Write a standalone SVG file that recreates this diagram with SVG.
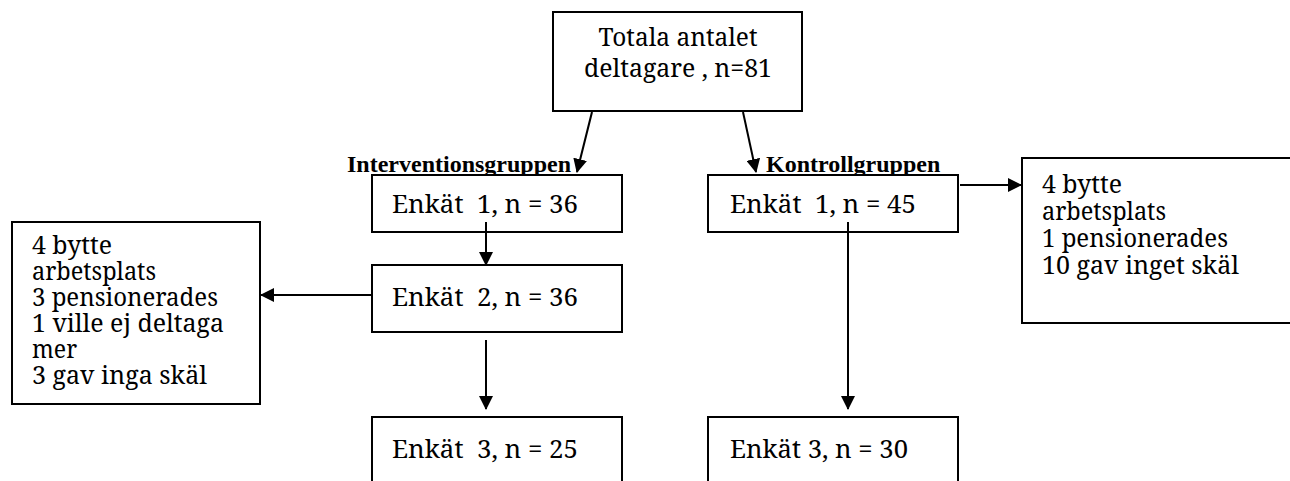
<svg xmlns="http://www.w3.org/2000/svg" width="1290" height="481" viewBox="0 0 1290 481">
<style>
.box{fill:#fff;stroke:#000;stroke-width:2}
.t{font-family:"Noto Serif","DejaVu Serif","Liberation Serif",serif;font-size:26px;fill:#000}
.b{font-family:"Liberation Serif","Times New Roman",serif;font-size:24px;font-weight:bold;fill:#000}
.c{stroke:#000;stroke-width:2;fill:none}
</style>
<defs>
<marker id="ah" markerWidth="14" markerHeight="14" refX="13" refY="7" orient="auto" markerUnits="userSpaceOnUse" viewBox="0 0 14 14">
<path d="M0,0 L14,7 L0,14 z" fill="#000"/>
</marker>
</defs>
<rect width="1290" height="481" fill="#fff"/>
<g id="total">
<rect class="box" x="553" y="12" width="249" height="99"/>
<text class="t" x="678" y="46" text-anchor="middle" textLength="159" lengthAdjust="spacingAndGlyphs">Totala antalet</text>
<text class="t" x="678" y="77" text-anchor="middle" textLength="188" lengthAdjust="spacingAndGlyphs">deltagare , n=81</text>
</g>
<g id="label-intervention"><text class="b" x="347" y="172">Interventionsgruppen</text></g>
<g id="label-kontroll"><text class="b" x="766" y="172">Kontrollgruppen</text></g>
<g id="i1">
<rect class="box" x="372" y="175" width="250" height="57"/>
<text class="t" x="392" y="213" xml:space="preserve" textLength="186" lengthAdjust="spacingAndGlyphs">Enkät  1, n = 36</text>
</g>
<g id="i2">
<rect class="box" x="372" y="265" width="250" height="67"/>
<text class="t" x="392" y="306" xml:space="preserve" textLength="186" lengthAdjust="spacingAndGlyphs">Enkät  2, n = 36</text>
</g>
<g id="i3">
<rect class="box" x="372" y="417" width="250" height="80"/>
<text class="t" x="392" y="458" xml:space="preserve" textLength="186" lengthAdjust="spacingAndGlyphs">Enkät  3, n = 25</text>
</g>
<g id="k1">
<rect class="box" x="708" y="175" width="250" height="57"/>
<text class="t" x="730" y="213" xml:space="preserve" textLength="186" lengthAdjust="spacingAndGlyphs">Enkät  1, n = 45</text>
</g>
<g id="k3">
<rect class="box" x="708" y="417" width="250" height="80"/>
<text class="t" x="730" y="458" textLength="178" lengthAdjust="spacingAndGlyphs">Enkät 3, n = 30</text>
</g>
<g id="dropout-intervention">
<rect class="box" x="12" y="222" width="248" height="182"/>
<text class="t" x="32" y="254" textLength="80" lengthAdjust="spacingAndGlyphs">4 bytte</text>
<text class="t" x="32" y="280" textLength="124" lengthAdjust="spacingAndGlyphs">arbetsplats</text>
<text class="t" x="32" y="306" textLength="186" lengthAdjust="spacingAndGlyphs">3 pensionerades</text>
<text class="t" x="32" y="332" textLength="192" lengthAdjust="spacingAndGlyphs">1 ville ej deltaga</text>
<text class="t" x="32" y="358" textLength="45" lengthAdjust="spacingAndGlyphs">mer</text>
<text class="t" x="32" y="384" textLength="175" lengthAdjust="spacingAndGlyphs">3 gav inga skäl</text>
</g>
<g id="dropout-kontroll">
<rect class="box" x="1022" y="158" width="280" height="165"/>
<text class="t" x="1042" y="193" textLength="80" lengthAdjust="spacingAndGlyphs">4 bytte</text>
<text class="t" x="1042" y="220" textLength="124" lengthAdjust="spacingAndGlyphs">arbetsplats</text>
<text class="t" x="1042" y="247" textLength="186" lengthAdjust="spacingAndGlyphs">1 pensionerades</text>
<text class="t" x="1042" y="274" textLength="197" lengthAdjust="spacingAndGlyphs">10 gav inget skäl</text>
</g>
<g id="connectors">
<line class="c" x1="592" y1="112" x2="577" y2="172" marker-end="url(#ah)"/>
<line class="c" x1="743" y1="112" x2="756" y2="172" marker-end="url(#ah)"/>
<line class="c" x1="486" y1="222" x2="486" y2="265" marker-end="url(#ah)"/>
<line class="c" x1="486" y1="340" x2="486" y2="409" marker-end="url(#ah)"/>
<line class="c" x1="848" y1="222" x2="848" y2="409" marker-end="url(#ah)"/>
<line class="c" x1="372" y1="295" x2="261" y2="295" marker-end="url(#ah)"/>
<line class="c" x1="960" y1="185" x2="1021" y2="185" marker-end="url(#ah)"/>
</g>
</svg>
